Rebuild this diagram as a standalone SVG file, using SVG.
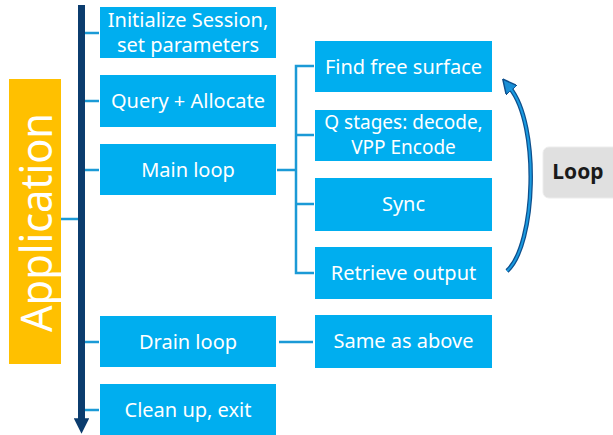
<svg xmlns="http://www.w3.org/2000/svg" width="613" height="435" viewBox="0 0 613 435">
<defs>
<style>
.box{fill:#00AEEF;}
.t{font-family:"Noto Sans","Open Sans",sans-serif;font-size:20px;fill:#ffffff;text-anchor:middle;}
.tick{stroke:#1B9AD6;stroke-width:2.5;fill:none;}
</style>
<marker id="ah" viewBox="0 0 10 10" refX="2" refY="5" markerWidth="3.2" markerHeight="3.2" orient="auto" markerUnits="strokeWidth">
<path d="M0,0 L10,5 L0,10 Z" fill="#1A8FD6" stroke="#0E4F8C" stroke-width="1"/>
</marker>
<marker id="bh" viewBox="0 0 10 10" refX="5" refY="5" markerWidth="2.2" markerHeight="2.2" orient="auto" markerUnits="strokeWidth">
<path d="M0,0 L10,5 L0,10 Z" fill="#0B3C6E"/>
</marker>
</defs>
<rect width="613" height="435" fill="#ffffff"/>
<g id="connectors">
<line x1="81.5" y1="5" x2="81.5" y2="426" stroke="#0B3C6E" stroke-width="7" marker-end="url(#bh)"/>
<line class="tick" x1="61" y1="219" x2="78" y2="219"/>
<line class="tick" x1="85" y1="33" x2="99" y2="33"/>
<line class="tick" x1="85" y1="101" x2="99" y2="101"/>
<line class="tick" x1="85" y1="170" x2="99" y2="170"/>
<line class="tick" x1="85" y1="342" x2="99" y2="342"/>
<line class="tick" x1="85" y1="410" x2="99" y2="410"/>
<line class="tick" x1="277" y1="170" x2="296" y2="170"/>
<path class="tick" d="M314,66 H296 V273 H314 M296,135 H314 M296,204 H314"/>
<line class="tick" x1="279" y1="342" x2="313" y2="342"/>
<path d="M507,271 C536,245 540,125 510,88" fill="none" stroke="#0E4F8C" stroke-width="4.5" marker-end="url(#ah)"/>
<path d="M507,271 C536,245 540,125 510,88" fill="none" stroke="#1A9BE0" stroke-width="2"/>
</g>
<g id="application">
<rect x="9" y="79" width="52" height="285" fill="#FFC000"/>
<text x="35" y="222.5" transform="rotate(-90 35 222.5)" font-family="'Noto Sans','Open Sans',sans-serif" font-size="44" fill="#ffffff" text-anchor="middle" dominant-baseline="central" textLength="219" lengthAdjust="spacingAndGlyphs">Application</text>
</g>
<g id="n-init"><rect class="box" x="100" y="7" width="176" height="51"/><text class="t" x="188" y="27">Initialize Session,</text><text class="t" x="188" y="52">set parameters</text></g>
<g id="n-query"><rect class="box" x="100" y="75" width="176" height="52"/><text class="t" x="188" y="108">Query + Allocate</text></g>
<g id="n-main"><rect class="box" x="100" y="144" width="176" height="51"/><text class="t" x="188" y="177">Main loop</text></g>
<g id="n-drain"><rect class="box" x="100" y="316" width="176" height="51"/><text class="t" x="188" y="349">Drain loop</text></g>
<g id="n-clean"><rect class="box" x="100" y="384" width="176" height="51"/><text class="t" x="188" y="417">Clean up, exit</text></g>
<g id="n-find"><rect class="box" x="315" y="41" width="177" height="51"/><text class="t" x="403.5" y="74">Find free surface</text></g>
<g id="n-q"><rect class="box" x="315" y="110" width="177" height="51"/><text class="t" x="403.5" y="129" style="font-size:19px">Q stages: decode,</text><text class="t" x="403.5" y="154" style="font-size:19px">VPP Encode</text></g>
<g id="n-sync"><rect class="box" x="315" y="178" width="177" height="53"/><text class="t" x="403.5" y="211">Sync</text></g>
<g id="n-retrieve"><rect class="box" x="315" y="247" width="177" height="52"/><text class="t" x="403.5" y="280">Retrieve output</text></g>
<g id="n-same"><rect class="box" x="315" y="315" width="177" height="53"/><text class="t" x="403.5" y="348">Same as above</text></g>
<g id="n-loop"><rect x="543" y="147" width="80" height="51" rx="6" fill="#E0E0E0" stroke="#ECECEC"/><text x="578" y="179" font-family="'Noto Sans','Open Sans',sans-serif" font-size="21" font-weight="bold" fill="#1a1a1a" text-anchor="middle">Loop</text></g>
</svg>
